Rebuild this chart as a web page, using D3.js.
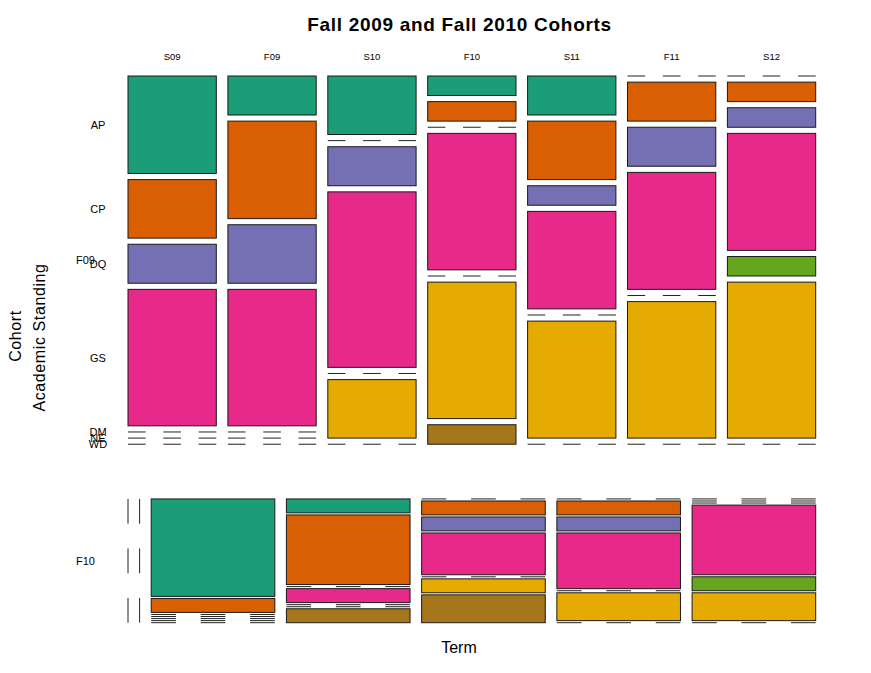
<!DOCTYPE html>
<html>
<head>
<meta charset="utf-8">
<script src="https://cdn.jsdelivr.net/npm/d3@7"></script>
<style>
  html, body { margin: 0; padding: 0; background: #fff; }
  svg { display: block; }
  text { font-family: "Liberation Sans", Arial, Helvetica, sans-serif; fill: #000; }
</style>
</head>
<body>
<svg id="chart" width="871" height="673"></svg>
<script>
// ---------- data ----------
const cohorts = ["F09", "F10"];
const terms = ["S09", "F09", "S10", "F10", "S11", "F11", "S12"];
const standings = ["AP", "CP", "DQ", "GS", "DM", "NE", "WD"];
const standingColors = ["#1B9E77", "#D95F02", "#7570B3", "#E7298A", "#66A61E", "#E6AB02", "#A6761D"];

// counts per term, in standing order (AP, CP, DQ, GS, DM, NE, WD)
const cohortF09 = [
  [5, 3, 2, 7, 0, 0, 0], // S09
  [2, 5, 3, 7, 0, 0, 0], // F09
  [3, 0, 2, 9, 0, 3, 0], // S10
  [1, 1, 0, 7, 0, 7, 1], // F10
  [2, 3, 1, 5, 0, 6, 0], // S11
  [0, 2, 2, 6, 0, 7, 0], // F11
  [0, 1, 1, 6, 1, 8, 0]  // S12
];
const cohortF10 = [
  [0, 0, 0, 0, 0, 0, 0], // S09
  [0, 0, 0, 0, 0, 0, 0], // F09
  [7, 1, 0, 0, 0, 0, 0], // S10
  [1, 5, 0, 1, 0, 0, 1], // F10
  [0, 1, 1, 3, 0, 1, 2], // S11
  [0, 1, 1, 4, 0, 2, 0], // F11
  [0, 0, 0, 5, 1, 2, 0]  // S12
];
const counts = [cohortF09, cohortF10];

// ---------- layout ----------
const X0 = 128, X1 = 815.7, termGap = 11.6;
const Y0 = 76, Y1 = 622.7, cohortGap = 54.7;
const standGapRatio = 0.01664;

const svg = d3.select("#chart");

// split a range into segments proportional to values, with gaps between
function split(values, start, end, gap) {
  const total = d3.sum(values);
  const avail = (end - start) - gap * (values.length - 1);
  const s = d3.scaleLinear().domain([0, total]).range([0, avail]);
  const out = [];
  let cum = 0;
  values.forEach((v, i) => {
    const a = start + s(cum) + gap * i;
    const b = start + s(cum + v) + gap * i;
    out.push([a, b]);
    cum += v;
  });
  return out;
}

const cohortTotals = counts.map(c => d3.sum(c, t => d3.sum(t)));
const cohortSegs = split(cohortTotals, Y0, Y1, cohortGap);

const gMos = svg.append("g");
const firstCellCenters = [];
const termCenters = [];

counts.forEach((cohort, ci) => {
  const [py0, py1] = cohortSegs[ci];
  const panelH = py1 - py0;
  const sGap = standGapRatio * panelH;
  const termTotals = cohort.map(t => d3.sum(t));
  const termSegs = split(termTotals, X0, X1, termGap);
  termSegs.forEach(([x0, x1], ti) => {
    if (ci === 0) termCenters.push((x0 + x1) / 2);
    const vals = cohort[ti];
    if (termTotals[ti] === 0) {
      const len = py1 - py0;
      gMos.append("line")
        .attr("x1", x0).attr("x2", x0).attr("y1", py0).attr("y2", py1)
        .attr("stroke", "#222").attr("stroke-width", 1)
        .attr("stroke-dasharray", `${len / 5} ${len / 5}`);
      return;
    }
    const segs = split(vals, py0, py1, sGap);
    segs.forEach(([y0, y1], si) => {
      if (ci === 0 && ti === 0) firstCellCenters.push((y0 + y1) / 2);
      if (vals[si] === 0) {
        const len = x1 - x0;
        gMos.append("line")
          .attr("x1", x0).attr("x2", x1).attr("y1", y0).attr("y2", y0)
          .attr("stroke", "#222").attr("stroke-width", 1)
          .attr("stroke-dasharray", `${len / 5} ${len / 5}`);
      } else {
        gMos.append("rect")
          .attr("x", x0).attr("y", y0)
          .attr("width", x1 - x0).attr("height", y1 - y0)
          .attr("fill", standingColors[si])
          .attr("stroke", "#1a1a1a").attr("stroke-width", 1);
      }
    });
  });
});

// ---------- labels ----------
svg.append("text")
  .attr("x", 459.5).attr("y", 31)
  .attr("text-anchor", "middle")
  .style("font-size", "19px").style("font-weight", "bold")
  .style("letter-spacing", "0.7px")
  .text("Fall 2009 and Fall 2010 Cohorts");

terms.forEach((t, i) => {
  svg.append("text")
    .attr("x", termCenters[i]).attr("y", 60)
    .attr("text-anchor", "middle")
    .style("font-size", "9.5px")
    .text(t);
});

standings.forEach((s, i) => {
  svg.append("text")
    .attr("x", 98).attr("y", firstCellCenters[i] + 4.2)
    .attr("text-anchor", "middle")
    .style("font-size", "11px")
    .text(s);
});

cohorts.forEach((c, i) => {
  const [a, b] = cohortSegs[i];
  svg.append("text")
    .attr("x", 85.5).attr("y", (a + b) / 2 + 4)
    .attr("text-anchor", "middle")
    .style("font-size", "11px")
    .text(c);
});

svg.append("text")
  .attr("transform", "translate(21,336) rotate(-90)")
  .attr("text-anchor", "middle")
  .style("font-size", "16px").style("letter-spacing", "0.6px")
  .text("Cohort");
svg.append("text")
  .attr("transform", "translate(45,337.5) rotate(-90)")
  .attr("text-anchor", "middle")
  .style("font-size", "16px").style("letter-spacing", "0.6px")
  .text("Academic Standing");

svg.append("text")
  .attr("x", 459).attr("y", 653.3)
  .attr("text-anchor", "middle")
  .style("font-size", "16px")
  .text("Term");
</script>
</body>
</html>
